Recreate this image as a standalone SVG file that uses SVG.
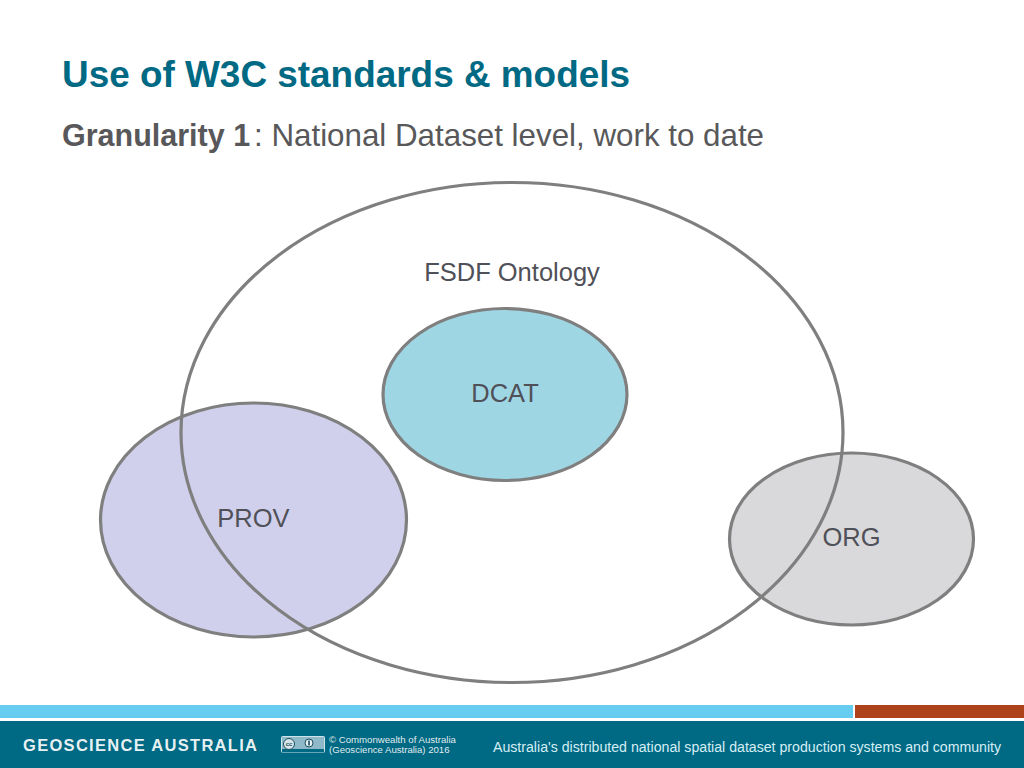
<svg xmlns="http://www.w3.org/2000/svg" width="1024" height="768" viewBox="0 0 1024 768">
<style>
text{font-family:"Liberation Sans",Arial,sans-serif}
.e{stroke:#7f7f7f;stroke-width:3.2}
.l{font-size:25.500px;fill:#505058;text-anchor:middle}
.f{fill:#fff}
</style>
<rect width="1024" height="768" fill="#fff"/>
<text x="62" y="87" font-size="36.900" font-weight="bold" fill="#006983" textLength="568" lengthAdjust="spacingAndGlyphs">Use of W3C standards &amp; models</text>
<text x="62" y="146" font-size="30.500" font-weight="bold" fill="#58585a">Granularity 1</text>
<text x="254" y="146" font-size="31.400" fill="#58585a" textLength="510" lengthAdjust="spacingAndGlyphs">: National Dataset level, work to date</text>
<g id="prov"><ellipse class="e" cx="253.500" cy="520" rx="153" ry="117" fill="#d0d0ec"/><text class="l" x="253.500" y="527">PROV</text></g>
<g id="dcat"><ellipse class="e" cx="505" cy="394.500" rx="122" ry="86" fill="#9fd6e4"/><text class="l" x="505" y="402">DCAT</text></g>
<g id="org"><ellipse class="e" cx="851.500" cy="539" rx="122" ry="86" fill="#d9d9db"/><text class="l" x="851.500" y="546">ORG</text></g>
<g id="fsdf"><ellipse class="e" cx="512" cy="432.500" rx="331" ry="250" fill="none"/><text class="l" x="512" y="281">FSDF Ontology</text></g>
<g id="footer">
<rect x="0" y="705" width="853" height="13" fill="#66cdf0"/>
<rect x="855" y="705" width="169" height="13" fill="#ae421a"/>
<rect x="0" y="721" width="1024" height="47" fill="#006983"/>
<text class="f" x="23" y="751" font-size="16.500" font-weight="bold" letter-spacing="1.300" fill-opacity=".92">GEOSCIENCE AUSTRALIA</text>
<rect x="281.500" y="736.500" width="43" height="16" rx="1" fill="#8fb8c8" stroke="#cfe3ea"/>
<rect x="282" y="749" width="42" height="3.500" fill="#006983"/>
<circle cx="289" cy="744" r="5.500" fill="#d8e6ea" stroke="#1b4f5f"/>
<text x="289" y="746" font-size="6" font-weight="bold" text-anchor="middle" fill="#1b4f5f">cc</text>
<circle cx="309" cy="743" r="4" fill="#e6eff2" stroke="#1b4f5f"/>
<rect x="308.200" y="740.500" width="1.600" height="5" fill="#1b4f5f"/>
<text class="f" x="329" y="743" font-size="9.650" fill-opacity=".9">© Commonwealth of Australia</text>
<text class="f" x="329" y="753" font-size="9.600" fill-opacity=".9">(Geoscience Australia) 2016</text>
<text x="493" y="752" font-size="14.150" fill="#d5eef5">Australia's distributed national spatial dataset production systems and community</text>
</g>
</svg>
